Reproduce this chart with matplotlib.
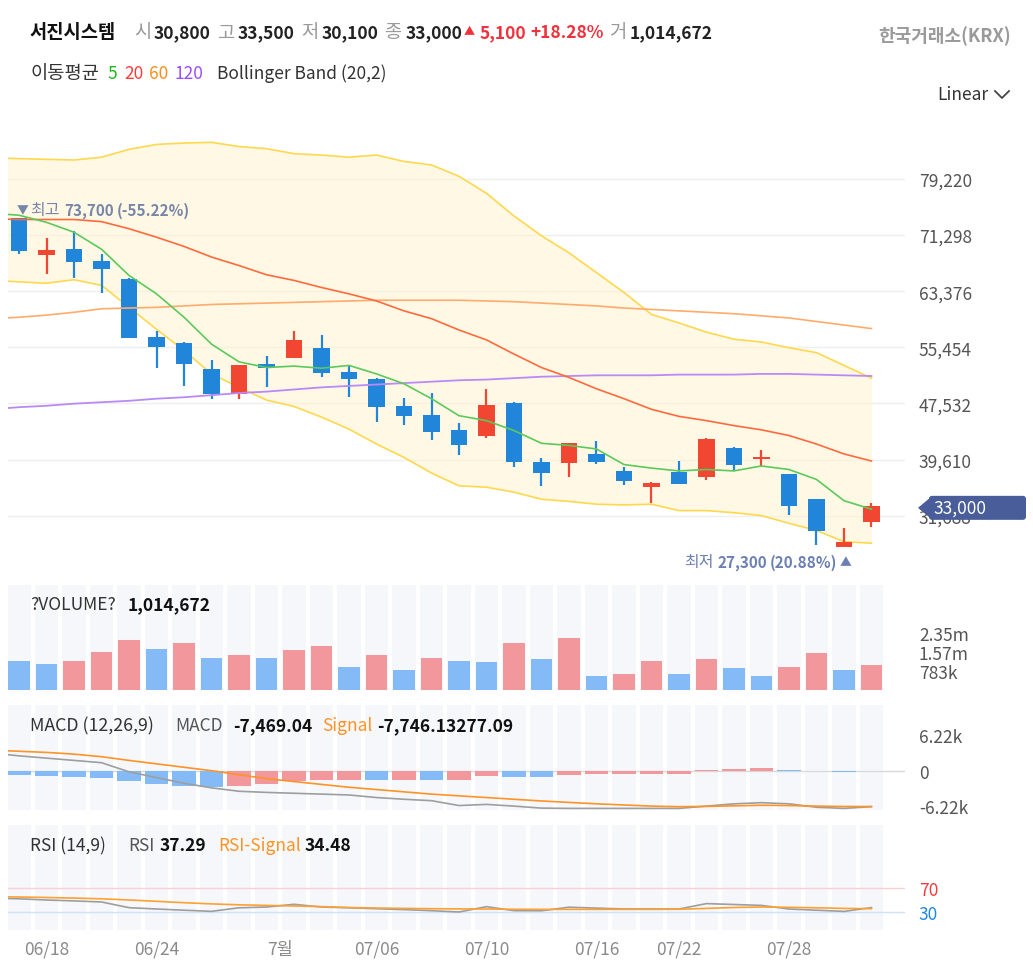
import numpy as np
import matplotlib
matplotlib.use('Agg')
import matplotlib.pyplot as plt
from matplotlib.patches import Polygon, FancyBboxPatch
from matplotlib.lines import Line2D
from matplotlib.transforms import IdentityTransform

# ---------------- data ----------------
tick_labels = ['06/18', '06/24', '7월', '07/06', '07/10', '07/16', '07/22', '07/28']
tick_index = [1, 5, 9.5, 13, 17, 21, 24, 28]

opens  = [73700, 68500, 69300, 67600, 65100, 56900, 56100, 52400, 48800, 53100, 53900, 55400, 51900, 51000, 47100, 45900,
          43800, 42900, 47600, 39200, 39100, 40400, 38000, 35700, 37800, 37200, 41200, 39700, 37600, 34000, 27300, 30800]
highs  = [73700, 70900, 71900, 68600, 65300, 57800, 56200, 53600, 52900, 54200, 57800, 57200, 53000, 51100, 48300, 49000,
          44700, 49500, 47800, 39800, 42000, 42200, 38500, 36500, 39400, 42700, 41400, 41000, 37600, 34100, 30000, 33500]
lows   = [68600, 65800, 65200, 63100, 56700, 52600, 50000, 48100, 48100, 49900, 53900, 51300, 48400, 44900, 44500, 42300,
          40300, 42700, 38600, 35900, 37100, 39000, 36000, 33500, 36100, 36700, 38200, 38700, 31800, 27600, 27300, 30100]
closes = [69000, 69200, 67500, 66500, 56700, 55500, 53100, 48900, 52900, 52500, 56500, 51800, 51000, 47000, 45700, 43500,
          41700, 47300, 39300, 37700, 42000, 39300, 36600, 36300, 36100, 42500, 38900, 39800, 33000, 29500, 27900, 33000]
volumes = [1190000, 1060000, 1190000, 1560000, 2060000, 1690000, 1930000, 1320000, 1440000, 1320000, 1630000, 1810000,
           950000, 1440000, 820000, 1320000, 1190000, 1140000, 1940000, 1260000, 2120000, 580000, 650000, 1200000,
           650000, 1260000, 890000, 580000, 950000, 1510000, 830000, 1014672]

# indicator series start one session before the first visible candle
ma5   = [74400, 74100, 73100, 71700, 69300, 65600, 63000, 59700, 55900, 53400, 52600, 52800, 52500, 52900, 51700, 50300, 48200,
         45800, 45100, 43700, 41900, 41600, 41100, 38900, 38400, 38000, 38200, 38000, 38700, 38200, 36800, 33800, 32600]
ma20  = [73600, 73500, 73500, 73500, 73200, 72200, 71000, 69700, 68200, 67000, 65700, 64900, 63900, 63000, 62000, 60600, 59500,
         57900, 56500, 54500, 52600, 51200, 49600, 48200, 46700, 45700, 45100, 44400, 43800, 43000, 41800, 40400, 39400]
ma60  = [59500, 59700, 60000, 60400, 60900, 61000, 61100, 61300, 61500, 61600, 61700, 61800, 61900, 62000, 62100, 62100, 62100,
         62100, 62000, 61900, 61700, 61500, 61300, 61000, 60800, 60600, 60400, 60200, 59900, 59600, 59100, 58600, 58100]
ma120 = [46700, 47000, 47200, 47500, 47700, 47900, 48200, 48400, 48700, 49000, 49200, 49500, 49800, 50000, 50200, 50400, 50600,
         50800, 50900, 51100, 51300, 51400, 51500, 51500, 51500, 51600, 51600, 51600, 51700, 51700, 51600, 51500, 51400]
bb_upper = [82200, 82100, 82000, 81900, 82300, 83400, 84100, 84300, 84400, 83800, 83500, 82800, 82600, 82300, 82600, 81700, 81200,
            79600, 77200, 74000, 71200, 68800, 66000, 63200, 60100, 58900, 57600, 56600, 56200, 55400, 54700, 52900, 51100]
bb_lower = [64900, 64700, 64500, 65000, 64200, 61100, 58000, 55000, 51700, 49800, 48000, 47100, 45600, 43900, 41800, 39900, 37700,
            35900, 35700, 35000, 34000, 33700, 33300, 33200, 33300, 32400, 32400, 32100, 31700, 30600, 29600, 28000, 27800]
macd_line = [3100, 2600, 2200, 1800, 1400, -200, -1200, -2200, -3000, -3600, -3800, -3950, -4100, -4250, -4700, -5000, -5250,
             -6100, -5900, -6200, -6550, -6600, -6600, -6600, -6600, -6600, -6200, -5800, -5600, -5800, -6400, -6600, -6300]
macd_signal = [3600, 3400, 3200, 2900, 2450, 1800, 1200, 600, 0, -700, -1400, -1900, -2400, -2900, -3300, -3700, -4100,
               -4400, -4700, -5000, -5300, -5550, -5800, -6000, -6200, -6300, -6250, -6150, -6050, -6100, -6200, -6270, -6270]
macd_hist = [-750, -1000, -1020, -1280, -1800, -2330, -2630, -2860, -2630, -2330, -1800, -1600, -1580, -1600, -1580, -1600,
             -1580, -1000, -1050, -1060, -820, -600, -580, -570, -560, 200, 220, 450, 200, 0, -250, 0]
rsi = [53, 52, 50, 48.5, 46.7, 37.2, 35, 33, 31.1, 37, 38.3, 42.8, 38.3, 37, 35.5, 34, 32.2, 30, 38.9, 32.2, 32, 38, 36.5,
       35, 35, 35, 44, 42.5, 41, 35, 33, 31, 37.3]
rsi_signal = [55.5, 55, 54.2, 53.2, 52, 50, 47.8, 45.5, 43.5, 42, 41, 40, 39, 37.5, 36.6, 36, 35.5, 35.2, 35, 34.5, 34.4,
              34.4, 34.4, 34.4, 34.4, 34.6, 36, 37.5, 38.3, 37.8, 37, 36, 35.5]

price_ticks = [79220, 71298, 63376, 55454, 47532, 39610, 31688]
vol_ticks = [783000, 1566000, 2349000]
vol_tick_labels = ['783k', '1.57m', '2.35m']
macd_ticks = [6220, 0, -6220]
macd_tick_labels = ['6.22k', '0', '-6.22k']
rsi_ticks = [70, 30]

# ---------------- style ----------------
W, H = 1033, 978
FS = 12.5
KS = 13.5   # size for Hangul words
RED, BLUE = '#f04632', '#2185da'
VRED, VBLUE = '#f2979b', '#84bbf6'
COLBG = '#f5f7fb'
plt.rcParams['font.family'] = ['Noto Sans CJK KR', 'DejaVu Sans']
plt.rcParams['axes.unicode_minus'] = False

fig = plt.figure(figsize=(W / 100, H / 100), dpi=100)

def rect(top, bottom, left=7.5, right=905):
    return [left / W, 1 - bottom / H, (right - left) / W, (bottom - top) / H]

ax_p = fig.add_axes(rect(112, 578))
ax_v = fig.add_axes(rect(586, 691))
ax_m = fig.add_axes(rect(706, 811))
ax_r = fig.add_axes(rect(826, 931))

n = len(closes)
xi = np.arange(n)
xl = np.arange(-1, n)
XL = (-0.42, 32.22)

for ax in (ax_p, ax_v, ax_m, ax_r):
    for s in ax.spines.values():
        s.set_visible(False)
    ax.yaxis.tick_right()
    ax.tick_params(axis='y', length=0, pad=10, labelsize=FS, labelcolor='#555')
    ax.tick_params(axis='x', length=0, labelbottom=False)
    ax.set_xlim(*XL)

# ---- price panel ----
ax_p.set_ylim(23022, 88822)
ax_p.set_yticks(price_ticks)
ax_p.set_yticklabels([f'{v:,}' for v in price_ticks])
ax_p.grid(axis='y', color='#efefef', lw=1)
ax_p.set_axisbelow(True)

ax_p.fill_between(xl, bb_lower, bb_upper, color='#fff3cc', alpha=0.5, lw=0, zorder=1)
ax_p.plot(xl, bb_upper, color='#ffd84d', lw=1.2, zorder=2)
ax_p.plot(xl, bb_lower, color='#ffd84d', lw=1.2, zorder=2)

o, h, l, c = map(np.array, (opens, highs, lows, closes))
up = c >= o
ccol = np.where(up, RED, BLUE)
body_lo = np.minimum(o, c)
body_h = np.maximum(np.abs(c - o), 250)
ax_p.vlines(xi, l, h, colors=ccol, lw=1.6, zorder=3)
ax_p.bar(xi, body_h, bottom=body_lo, width=0.6, color=ccol, zorder=4)

ax_p.plot(xl, ma60, color='#ffab6b', lw=1.2, zorder=5)
ax_p.plot(xl, ma120, color='#b98af5', lw=1.3, zorder=5)
ax_p.plot(xl, ma20, color='#ff6a3d', lw=1.2, zorder=5)
ax_p.plot(xl, ma5, color='#5cc95c', lw=1.2, zorder=6)

# ---- volume panel ----
vmax = 4.316e6
ax_v.set_ylim(0, vmax)
ax_v.bar(xi, vmax, width=0.85, color=COLBG, zorder=0)
vol = np.array(volumes)
vcol = [VBLUE] + [VRED if vol[i] > vol[i - 1] else VBLUE for i in range(1, n)]
ax_v.bar(xi, vol, width=0.77, color=vcol, zorder=2)
ax_v.set_yticks(vol_ticks)
ax_v.set_yticklabels(vol_tick_labels)

# ---- MACD panel ----
mlo, mhi = -6880, 11500
ax_m.set_ylim(mlo, mhi)
ax_m.bar(xi, mhi - mlo, bottom=mlo, width=0.85, color=COLBG, zorder=0)
ax_m.axhline(0, color='#d9d9d9', lw=1, zorder=1)
hist = np.array(macd_hist)
hcol = [VBLUE] + [VRED if hist[i] >= hist[i - 1] else VBLUE for i in range(1, n)]
ax_m.bar(xi, hist, width=0.85, color=hcol, zorder=2)
ax_m.plot(xl, macd_line, color='#9e9e9e', lw=1.2, zorder=3)
ax_m.plot(xl, macd_signal, color='#ff9326', lw=1.2, zorder=4)
ax_m.set_yticks(macd_ticks)
ax_m.set_yticklabels(macd_tick_labels)

# ---- RSI panel ----
ax_r.set_ylim(0, 175)
ax_r.bar(xi, 175, width=0.85, color=COLBG, zorder=0)
ax_r.axhline(70, color='#fbd0d0', lw=1, zorder=1)
ax_r.axhline(30, color='#cfe2f8', lw=1, zorder=1)
ax_r.plot(xl, rsi, color='#9e9e9e', lw=1.2, zorder=3)
ax_r.plot(xl, rsi_signal, color='#ffa033', lw=1.2, zorder=4)
ax_r.set_yticks(rsi_ticks)
ax_r.set_yticklabels([str(v) for v in rsi_ticks])
for lab, colr in zip(ax_r.get_yticklabels(), ['#f03c3c', '#1e88e5']):
    lab.set_color(colr)
ax_r.set_xticks(tick_index)
ax_r.set_xticklabels(tick_labels)
ax_r.tick_params(axis='x', labelbottom=True, labelcolor='#8a8a8a', labelsize=FS, pad=7)

# ---------------- text helpers ----------------
ID = IdentityTransform()

def put(x, y, s, color='#333', weight='normal', size=FS, ha='left'):
    return fig.text(x, H - y, s, color=color, fontweight=weight, fontsize=size,
                    ha=ha, va='center', transform=ID)

renderer = fig.canvas.get_renderer()

def seq(x, y, pieces, align='left'):
    texts, widths, gaps = [], [], []
    for s, color, weight, size, gap in pieces:
        t = put(0, y, s, color, weight, size)
        texts.append(t)
        widths.append(t.get_window_extent(renderer).width)
        gaps.append(gap)
    total = sum(widths) + sum(gaps)
    cur = x if align == 'left' else x - total
    for t, w, g in zip(texts, widths, gaps):
        cur += g
        t.set_x(cur)
        cur += w

# header
G = '#999999'
K = '#222222'
HR = '#f0323c'
put(30, 33, '서진시스템', '#111111', 'bold', KS)
put(134, 33, '시', G, 'normal', KS)
put(154, 33, '30,800', K, 'bold')
put(217, 33, '고', G, 'normal', KS)
put(238, 33, '33,500', K, 'bold')
put(301, 33, '저', G, 'normal', KS)
put(322, 33, '30,100', K, 'bold')
put(384, 33, '종', G, 'normal', KS)
put(406, 33, '33,000', K, 'bold')
put(464, 32, '▲', HR, 'normal', 8)
put(480, 33, '5,100', HR, 'bold')
put(530, 33, '+18.28%', HR, 'bold')
put(609, 33, '거', G, 'normal', KS)
put(630, 33, '1,014,672', K, 'bold')
put(878, 36, '한국거래소(KRX)', '#9a9a9a', 'bold', 13)

put(31, 74, '이동평균', '#333', 'normal', KS)
put(107, 74, '5', '#1fb81f')
put(124, 74, '20', '#ff3b3b')
put(149, 74, '60', '#ff8c1a')
put(174, 74, '120', '#9b4dff')
put(217, 74, 'Bollinger Band (20,2)', '#333')

put(937, 95, 'Linear', '#333')
fig.add_artist(Line2D([995, 1002, 1009], [H - 92, H - 99, H - 92], color='#444', lw=1.3, transform=ID))

put(30, 605, '?VOLUME?', '#333')
put(128, 605, '1,014,672', '#111', 'bold')

put(30, 726, 'MACD (12,26,9)', '#333', 'normal', 12.8)
put(175, 726, 'MACD', '#555')
put(233, 726, '-7,469.04', '#111', 'bold')
put(322, 726, 'Signal', '#ff9326')
put(377, 726, '-7,746.13277.09', '#111', 'bold')

put(30, 846, 'RSI (14,9)', '#333')
put(128, 846, 'RSI', '#555')
put(160, 846, '37.29', '#111', 'bold')
put(218, 846, 'RSI-Signal', '#ff9326')
put(305, 846, '34.48', '#111', 'bold')

# max / min annotations anchored on the data
imax = int(np.argmax(h))
imin = int(np.argmin(l))
AC1, AC2 = '#7786a8', '#6c80b3'
xa, ya = ax_p.transData.transform((imax, h[imax]))
seq(xa - 2.5, H - ya - 8.5, [('▼', AC1, 'normal', 8.5, 0), ('최고', AC1, 'normal', 11.5, 2),
                              ('73,700', AC1, 'bold', 11, 4), ('(-55.22%)', AC1, 'bold', 11, 3)])
xb, yb = ax_p.transData.transform((imin, l[imin]))
seq(xb + 7, H - yb + 15, [('최저', AC2, 'normal', 11.5, 0), ('27,300', AC2, 'bold', 11, 4),
                          ('(20.88%)', AC2, 'bold', 11, 3), ('▲', AC2, 'normal', 8.5, 2)], align='right')

# last price tag
_, yc = ax_p.transData.transform((0, closes[-1]))
yc -= 1.5
TAG = '#485d99'
fig.add_artist(FancyBboxPatch((929, yc - 12), 97, 24, boxstyle='round,pad=0,rounding_size=3',
                              fc=TAG, ec='none', transform=ID))
fig.add_artist(Polygon([[918, yc], [930, yc + 10], [930, yc - 10]], closed=True, fc=TAG, ec='none', transform=ID))
fig.text(933, yc, f'{closes[-1]:,}', color='white', fontsize=FS, ha='left', va='center', transform=ID)

fig.savefig('out.png', dpi=100)
